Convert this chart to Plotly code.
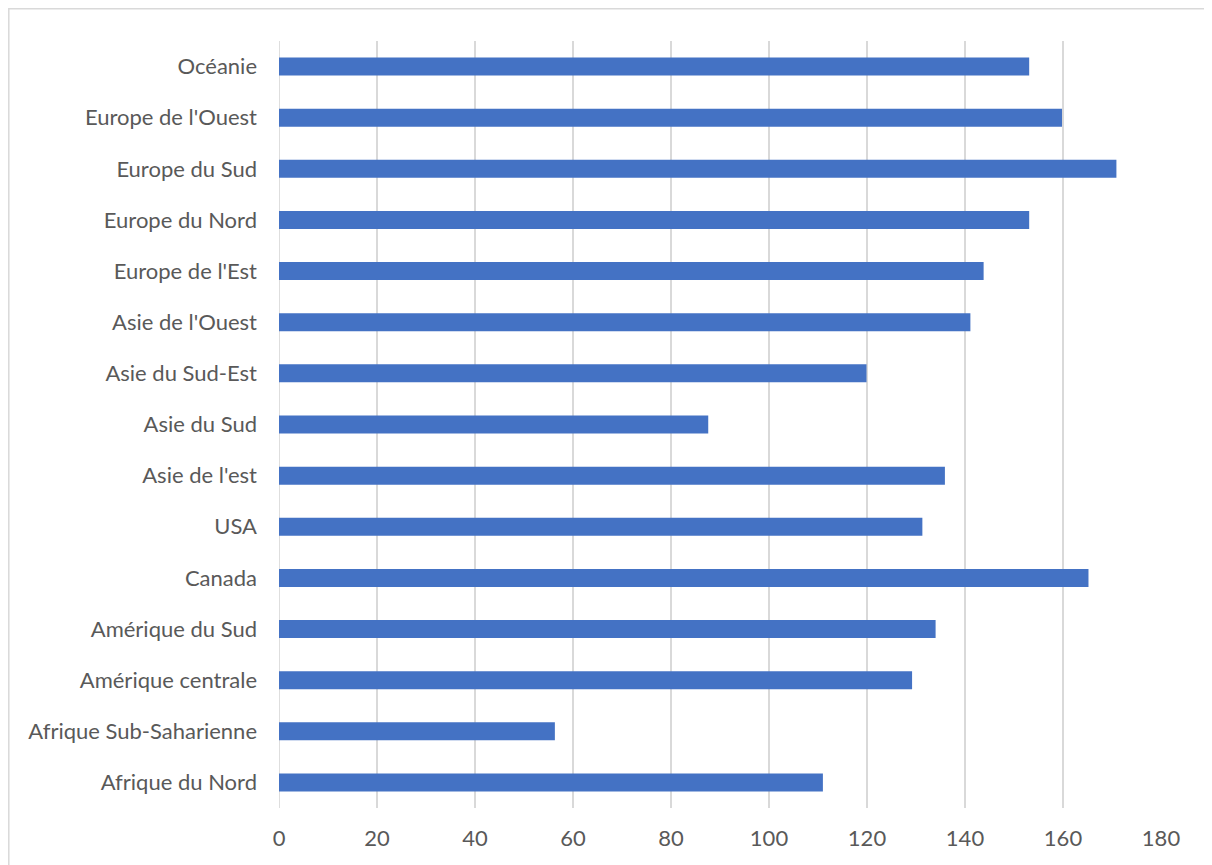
import plotly.graph_objects as go

categories = ["Afrique du Nord", "Afrique Sub-Saharienne", "Amérique centrale",
              "Amérique du Sud", "Canada", "USA", "Asie de l'est", "Asie du Sud",
              "Asie du Sud-Est", "Asie de l'Ouest", "Europe de l'Est",
              "Europe du Nord", "Europe du Sud", "Europe de l'Ouest", "Océanie"]
values = [111.0, 56.3, 129.2, 134.0, 165.2, 131.3, 135.9, 87.6,
          119.9, 141.1, 143.8, 153.1, 170.9, 159.8, 153.1]
x_ticks = [0, 20, 40, 60, 80, 100, 120, 140, 160, 180]

W, H = 1212, 865
OFF = 8  # page body offset
ml, mt = 279 - OFF, 41 - OFF
mr = W - (1161 - OFF)
mb = H - (808 - OFF)
pw, ph = W - ml - mr, H - mt - mb

fig = go.Figure(go.Bar(
    x=values, y=categories, orientation="h",
    marker=dict(color="#4472C4", line=dict(width=0)),
))

def px_x(p):
    return (p - ml) / pw

def px_y(p):
    return (H - mb - p) / ph

fig.update_layout(
    width=W, height=H,
    margin=dict(l=ml, r=mr, t=mt, b=mb),
    paper_bgcolor="white", plot_bgcolor="white",
    bargap=0.648,
    showlegend=False,
    font=dict(family="Lato", size=22, color="#595959"),
    xaxis=dict(range=[0, 180], tickvals=x_ticks, showgrid=True,
               gridcolor="#d9d9d9", gridwidth=1.7, zeroline=False,
               showline=False, ticks="", tickfont=dict(size=22, color="#595959"),
               ticklabelstandoff=15),
    yaxis=dict(showgrid=False, zeroline=False, showline=False, ticks="",
               tickfont=dict(size=22, color="#595959"), ticklabelstandoff=21),
    shapes=[dict(type="rect", xref="paper", yref="paper",
                 x0=px_x(0.8), x1=px_x(W + 10), y0=px_y(H + 10), y1=px_y(0.8),
                 line=dict(color="#d9d9d9", width=1.5), layer="below")],
)
fig.add_shape(type="line", xref="x", yref="paper", x0=0, x1=0, y0=0, y1=1,
              line=dict(color="#d9d9d9", width=1.7), layer="below")

fig.write_html("out.html")
